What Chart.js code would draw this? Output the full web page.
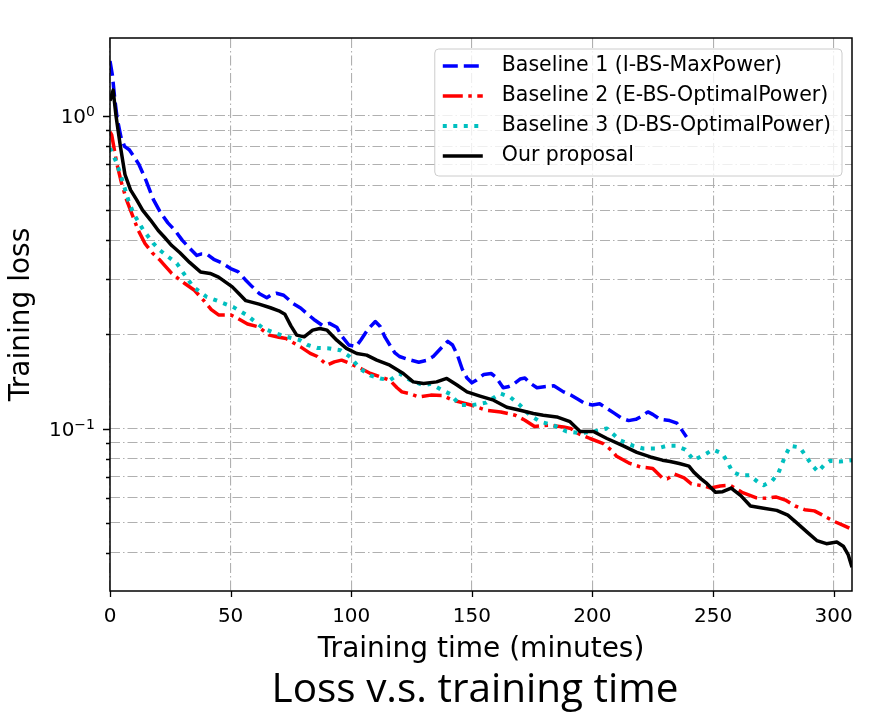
<!DOCTYPE html>
<html>
<head>
<meta charset="utf-8">
<title>Loss v.s. training time</title>
<script src="https://cdn.jsdelivr.net/npm/chart.js@4.4.1/dist/chart.umd.min.js"></script>
<style>
  html, body { margin: 0; padding: 0; background: #fff; }
  #wrap { width: 886px; height: 717px; position: relative; }
</style>
</head>
<body>
<div id="wrap"><canvas id="lossChart"></canvas></div>
<script>
// Baseline 1 (I-BS-MaxPower)
const b1Time = [0, 1, 2, 3, 4.5, 6, 8, 10, 12, 15, 18, 21, 24, 27, 30, 33, 36, 38, 40, 43,
  46, 50, 53, 56, 59, 62, 65, 67, 69, 72, 76, 79, 82, 85, 88, 91, 94, 96, 99, 102,
  104, 107, 110, 112, 114, 116, 118, 120, 124, 128, 131, 134, 137, 140, 142, 144, 146, 148, 150, 152,
  155, 158, 160, 163, 165, 167, 170, 172, 174, 177, 180, 184, 188, 191, 194, 197, 200, 203, 206, 209,
  212, 215, 218, 220, 223, 225, 228, 232, 235, 237, 239];
const b1Loss = [1.50, 1.35, 1.13, 0.98, 0.86, 0.80, 0.78, 0.74, 0.70, 0.62, 0.54, 0.49, 0.455, 0.43, 0.40, 0.378, 0.358, 0.362, 0.362, 0.348,
  0.34, 0.325, 0.318, 0.30, 0.284, 0.27, 0.262, 0.268, 0.271, 0.267, 0.251, 0.243, 0.232, 0.222, 0.214, 0.217, 0.211, 0.198, 0.185, 0.183,
  0.192, 0.208, 0.220, 0.212, 0.196, 0.185, 0.175, 0.170, 0.166, 0.163, 0.165, 0.170, 0.180, 0.190, 0.185, 0.172, 0.155, 0.145, 0.140, 0.143,
  0.149, 0.150, 0.146, 0.135, 0.136, 0.138, 0.144, 0.145, 0.140, 0.135, 0.136, 0.137, 0.131, 0.128, 0.124, 0.120, 0.119, 0.120, 0.116, 0.112,
  0.108, 0.106, 0.107, 0.109, 0.113, 0.111, 0.107, 0.106, 0.104, 0.099, 0.094];

// Baseline 2 (E-BS-OptimalPower)
const b2Time = [0, 0.7, 2.8, 4.8, 6.9, 9, 11.7, 14.5, 17.5, 20.7, 25.6, 31, 35, 38.7, 42, 45, 50, 53, 57, 61.5,
  66, 70, 73, 76, 79, 83, 86, 90, 93, 96, 99.5, 104, 108, 112, 116, 119, 121, 124, 128, 133,
  138, 142, 146, 150, 156, 162, 168, 172, 176, 182, 188, 191, 194, 199, 204.5, 208, 210, 215.5, 220, 225,
  229, 231, 234, 238, 241, 246, 249, 253, 257, 262, 268, 272, 276, 280, 284, 288, 292, 295, 300, 304, 306.5];
const b2Loss = [0.89, 0.87, 0.706, 0.609, 0.538, 0.488, 0.431, 0.391, 0.365, 0.346, 0.3135, 0.291, 0.277, 0.2575, 0.24, 0.231, 0.231, 0.225, 0.216, 0.2115,
  0.199, 0.196, 0.194, 0.188, 0.1825, 0.174, 0.17, 0.1595, 0.1634, 0.1655, 0.1615, 0.1556, 0.15, 0.1463, 0.1428, 0.135, 0.131, 0.1295, 0.1262, 0.1279,
  0.1275, 0.1232, 0.121, 0.1187, 0.1144, 0.113, 0.1103, 0.1063, 0.1015, 0.1025, 0.1012, 0.1, 0.0964, 0.0929, 0.0895, 0.085, 0.0815, 0.0773, 0.0753, 0.0745,
  0.0695, 0.069, 0.0715, 0.0695, 0.0665, 0.0655, 0.0645, 0.0655, 0.0658, 0.0625, 0.06, 0.0598, 0.0604, 0.059, 0.0565, 0.055, 0.0545, 0.053, 0.0505, 0.049, 0.048];

// Baseline 3 (D-BS-OptimalPower)
const b3Time = [0, 0.7, 2.8, 5.5, 7.6, 9.7, 13.8, 18, 20.7, 24, 27.7, 31, 34.5, 40, 45.6, 51, 56.7, 60, 63.6, 69,
  73.3, 78.8, 82, 86, 91, 95.5, 99.5, 103.6, 107.8, 112, 116, 120, 124.4, 130, 133, 137, 141, 145, 150.6, 156,
  161.7, 165.8, 170, 174, 178.3, 183.8, 189.3, 195, 200.4, 206, 211.4, 217, 221, 226.7, 230.8, 234.5, 238.5, 242, 246, 250,
  254, 256.3, 258, 261.2, 265, 268.5, 271, 274.5, 277, 280, 282, 286, 288.5, 291, 293.5, 296, 298.5, 302.7, 307.6];
const b3Loss = [0.79, 0.77, 0.706, 0.609, 0.538, 0.488, 0.4315, 0.391, 0.372, 0.355, 0.3375, 0.31, 0.284, 0.264, 0.2543, 0.245, 0.2306, 0.22, 0.209, 0.2014,
  0.1965, 0.1917, 0.185, 0.181, 0.1804, 0.178, 0.1696, 0.1556, 0.1479, 0.1446, 0.1428, 0.15, 0.1428, 0.1376, 0.139, 0.1335, 0.129, 0.119, 0.119, 0.121,
  0.1295, 0.1262, 0.1187, 0.1103, 0.1052, 0.1025, 0.0978, 0.0966, 0.0978, 0.1, 0.0917, 0.088, 0.0863, 0.0863, 0.088, 0.088, 0.0856, 0.0792, 0.0821, 0.0856,
  0.083, 0.0773, 0.0727, 0.0709, 0.0709, 0.0675, 0.0658, 0.068, 0.0718, 0.082, 0.088, 0.087, 0.0815, 0.0764, 0.0727, 0.0764, 0.0788, 0.0784, 0.0792];

// Our proposal
const oursTime = [0, 1.3, 2.5, 4.3, 6.2, 8.5, 11, 13.5, 16.8, 20, 22.5, 25.6, 29, 33, 37.5, 41.5, 45, 50.7, 53.5, 56.3,
  61.8, 66.5, 70, 72.5, 75, 77.4, 80.5, 84, 87, 90, 94, 98, 102.3, 106.4, 110.6, 116, 121.6, 125.7, 130, 135.4,
  139.6, 143.7, 148, 153.4, 159, 164.5, 170, 175.5, 179.6, 185.2, 190.7, 194.9, 200.4, 206, 212.8, 218.4, 224, 229, 232.2, 236,
  240, 242, 245, 247.4, 251, 254, 257.5, 261.5, 265.5, 271, 276.4, 281, 284.7, 289, 293, 297, 301.3, 304, 306, 307.6];
const oursLoss = [1.12, 1.21, 1.0, 0.8, 0.65, 0.58, 0.54, 0.5, 0.4645, 0.43, 0.41, 0.385, 0.365, 0.34, 0.317, 0.3135, 0.305, 0.284, 0.27, 0.2565,
  0.25, 0.2435, 0.238, 0.232, 0.213, 0.199, 0.1965, 0.2064, 0.209, 0.2064, 0.1917, 0.1804, 0.1738, 0.1717, 0.1655, 0.1595, 0.15, 0.141, 0.1394, 0.141,
  0.1446, 0.138, 0.131, 0.127, 0.1232, 0.117, 0.1144, 0.1117, 0.1103, 0.1089, 0.1052, 0.0978, 0.0978, 0.0929, 0.088, 0.0839, 0.0811, 0.0792, 0.0784, 0.0773,
  0.0758, 0.0725, 0.069, 0.0667, 0.0625, 0.0628, 0.0645, 0.061, 0.0565, 0.0556, 0.0547, 0.0528, 0.0499, 0.0466, 0.0438, 0.0428, 0.0433, 0.042, 0.0395, 0.036];

const seriesLabels = ['Baseline 1 (I-BS-MaxPower)', 'Baseline 2 (E-BS-OptimalPower)', 'Baseline 3 (D-BS-OptimalPower)', 'Our proposal'];
const xTicks = [0, 50, 100, 150, 200, 250, 300];
const yTicks = [0.04, 0.05, 0.06, 0.07, 0.08, 0.09, 0.1, 0.2, 0.3, 0.4, 0.5, 0.6, 0.7, 0.8, 0.9, 1];
const yLabelValues = [1, 0.1];
const yLabelExp = ['0', '\u22121'];
const captionText = 'Loss v.s. training time';

function toPoints(times, losses) {
    const n = Math.min(times.length, losses.length);
    const pts = [];
    for (let i = 0; i < n; i++) pts.push({ x: times[i], y: losses[i] });
    return pts;
}

// tick marks, 10^n labels, frame and the caption under the axes
const axesFrame = {
    id: 'axesFrame',
    afterDatasetsDraw(chart) {
        const { ctx, chartArea: a, scales: { x, y } } = chart;
        ctx.save();
        ctx.strokeStyle = '#000';
        ctx.lineWidth = 1.3;
        ctx.beginPath();
        xTicks.forEach(v => {
            const px = Math.round(x.getPixelForValue(v)) + 0.5;
            ctx.moveTo(px, a.bottom);
            ctx.lineTo(px, a.bottom + 6);
        });
        yTicks.forEach(v => {
            const py = Math.round(y.getPixelForValue(v)) + 0.5;
            const len = yLabelValues.includes(v) ? 7 : 4;
            ctx.moveTo(a.left, py);
            ctx.lineTo(a.left - len, py);
        });
        ctx.stroke();
        ctx.lineWidth = 1.5;
        ctx.strokeRect(a.left, a.top, a.right - a.left, a.bottom - a.top);

        // mathtext-like labels: "10" with a raised, smaller exponent
        ctx.fillStyle = '#000';
        ctx.textAlign = 'left';
        ctx.textBaseline = 'alphabetic';
        yLabelValues.forEach((v, i) => {
            const py = y.getPixelForValue(v);
            ctx.font = '20px "DejaVu Sans", sans-serif';
            const wBase = ctx.measureText('10').width;
            ctx.font = '14px "DejaVu Sans", sans-serif';
            const wExp = ctx.measureText(yLabelExp[i]).width;
            const x0 = a.left - 15 - wBase - wExp;
            const base = py + 7.3;
            ctx.font = '20px "DejaVu Sans", sans-serif';
            ctx.fillText('10', x0, base);
            ctx.font = '14px "DejaVu Sans", sans-serif';
            ctx.fillText(yLabelExp[i], x0 + wBase, base - 7);
        });

        ctx.font = '40.5px "Open Sans", sans-serif';
        ctx.textAlign = 'center';
        ctx.fillText(captionText, 475, 701.5);
        ctx.restore();
    }
};

// matplotlib style legend in the upper right corner
const legendBox = {
    id: 'legendBox',
    afterDraw(chart) {
        const { ctx, chartArea } = chart;
        const sets = chart.data.datasets;
        ctx.save();
        ctx.font = '20.5px "DejaVu Sans", sans-serif';
        const textW = Math.max(...sets.map(d => ctx.measureText(d.label).width));
        const w = 8 + 40 + 19 + textW + 11;
        const h = 127;
        const x0 = chartArea.right - 10 - w;
        const y0 = chartArea.top + 11;
        ctx.beginPath();
        if (ctx.roundRect) ctx.roundRect(x0, y0, w, h, 4); else ctx.rect(x0, y0, w, h);
        ctx.fillStyle = 'rgba(255,255,255,0.8)';
        ctx.fill();
        ctx.strokeStyle = '#cccccc';
        ctx.lineWidth = 1;
        ctx.stroke();
        sets.forEach((d, i) => {
            const yRow = y0 + 17 + i * 30;
            ctx.beginPath();
            ctx.setLineDash(d.borderDash || []);
            ctx.strokeStyle = d.borderColor;
            ctx.lineWidth = d.borderWidth;
            ctx.moveTo(x0 + 8, yRow);
            ctx.lineTo(x0 + 48, yRow);
            ctx.stroke();
            ctx.setLineDash([]);
            ctx.fillStyle = '#000';
            ctx.textAlign = 'left';
            ctx.textBaseline = 'middle';
            ctx.fillText(d.label, x0 + 67, yRow);
        });
        ctx.restore();
    }
};

Chart.defaults.font.family = '"DejaVu Sans", sans-serif';
Chart.defaults.color = '#000';

const gridDash = [10, 3, 1.5, 3];

new Chart(document.getElementById('lossChart'), {
    type: 'line',
    data: {
        datasets: [
            { label: seriesLabels[0], data: toPoints(b1Time, b1Loss), borderColor: '#0000ff', borderWidth: 3.5, borderDash: [15, 6], order: 3 },
            { label: seriesLabels[1], data: toPoints(b2Time, b2Loss), borderColor: '#ff0000', borderWidth: 3.5, borderDash: [20, 5.5, 3.5, 5.5], order: 2 },
            { label: seriesLabels[2], data: toPoints(b3Time, b3Loss), borderColor: '#00bfbf', borderWidth: 4, borderDash: [4, 6.5], order: 1 },
            { label: seriesLabels[3], data: toPoints(oursTime, oursLoss), borderColor: '#000000', borderWidth: 3.5, order: 0 }
        ]
    },
    options: {
        responsive: true,
        maintainAspectRatio: false,
        animation: false,
        layout: { padding: { left: 0, top: 38, right: 34, bottom: 0 } },
        elements: {
            point: { radius: 0, hoverRadius: 0 },
            line: { tension: 0, fill: false, borderJoinStyle: 'round' }
        },
        plugins: {
            legend: { display: false },
            tooltip: { enabled: false }
        },
        scales: {
            x: {
                type: 'linear',
                min: 0,
                max: 307.6,
                afterFit: scale => { scale.height = 126; },
                afterBuildTicks: scale => { scale.ticks = xTicks.map(v => ({ value: v })); },
                ticks: { font: { size: 20 }, padding: 14, autoSkip: false, maxRotation: 0, callback: v => String(v) },
                grid: { color: '#b0b0b0', lineWidth: 1.1, drawTicks: false },
                border: { display: false, dash: gridDash },
                title: { display: true, text: 'Training time (minutes)', font: { size: 28 }, padding: { top: 0, bottom: 50 } }
            },
            y: {
                type: 'logarithmic',
                min: 0.0302,
                max: 1.777,
                afterFit: scale => { scale.width = 110; },
                afterBuildTicks: scale => { scale.ticks = yTicks.map(v => ({ value: v, major: yLabelValues.includes(v) })); },
                // labels for 10^0 and 10^-1 are drawn with a raised exponent in axesFrame
                ticks: { display: false, autoSkip: false },
                grid: { color: '#b0b0b0', lineWidth: 1.1, drawTicks: false },
                border: { display: false, dash: gridDash },
                title: { display: true, text: 'Training loss', font: { size: 28 }, padding: { top: 5, bottom: 0 } }
            }
        }
    },
    plugins: [axesFrame, legendBox]
});
</script>
</body>
</html>
